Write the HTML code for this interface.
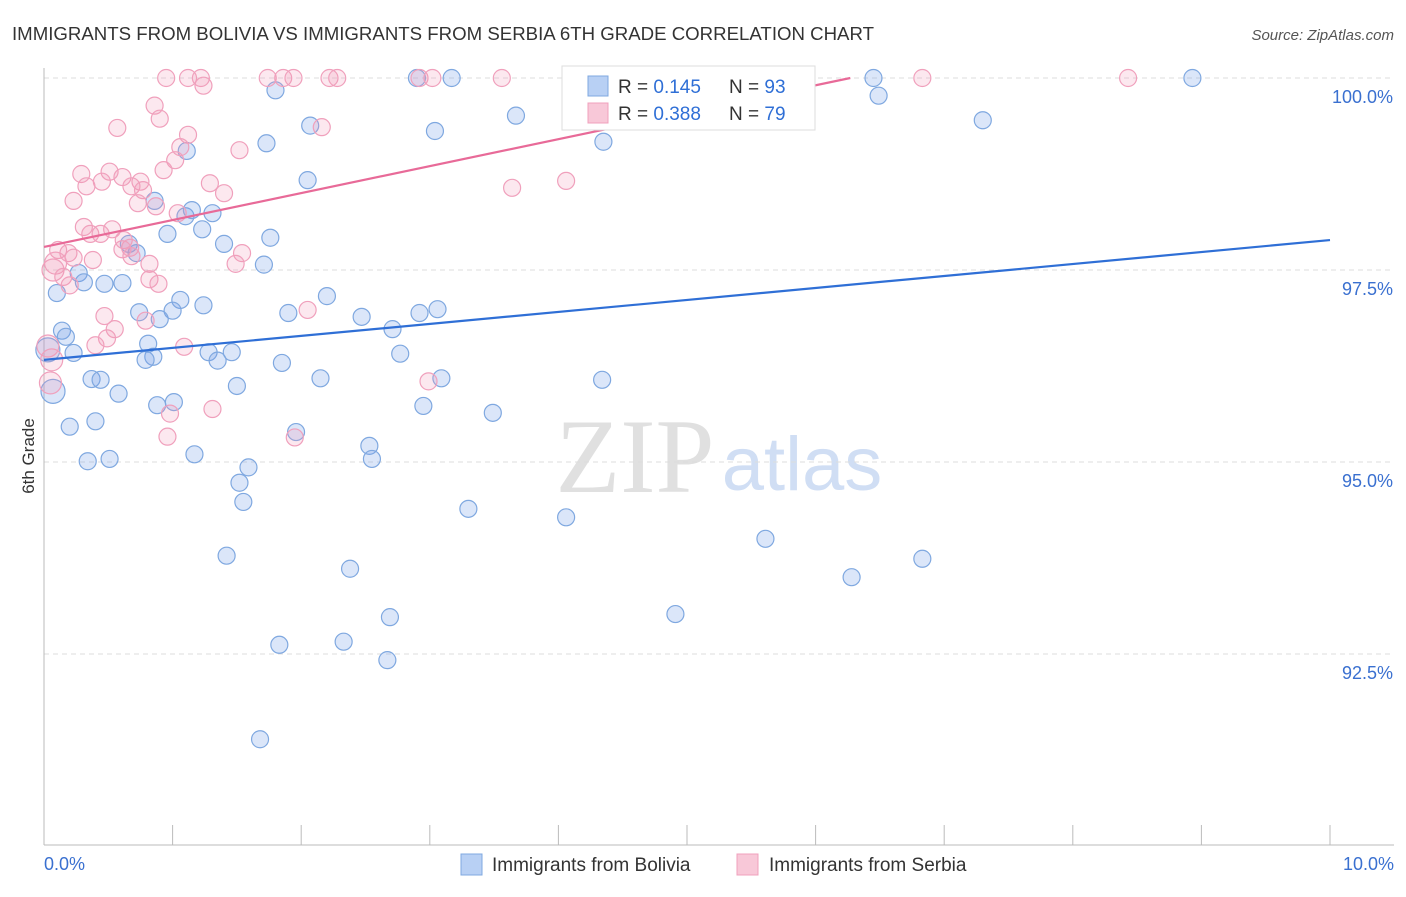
<!DOCTYPE html>
<html><head><meta charset="utf-8"><style>
body{margin:0;background:#fff;font-family:"Liberation Sans",sans-serif;}
svg text{font-family:"Liberation Sans",sans-serif;}
</style></head><body>
<svg id="c" width="1406" height="892" xmlns="http://www.w3.org/2000/svg">
<text x="12" y="40" font-size="18" fill="#333" textLength="862" lengthAdjust="spacingAndGlyphs">IMMIGRANTS FROM BOLIVIA VS IMMIGRANTS FROM SERBIA 6TH GRADE CORRELATION CHART</text>
<text x="1394" y="40" font-size="15" fill="#555" text-anchor="end" font-style="italic">Source: ZipAtlas.com</text>
<text x="34" y="456" font-size="17" fill="#333" text-anchor="middle" transform="rotate(-90 34 456)">6th Grade</text>
<g><text x="635" y="492" font-size="106" fill="#e0e0e0" text-anchor="middle" style="font-family:'Liberation Serif',serif">ZIP</text><text x="802" y="490" font-size="76" fill="#d0def4" text-anchor="middle">atlas</text></g>
<g id="grid"></g><g id="axes"></g><g id="pts"></g><g id="lines"></g>
<g>
<rect x="562" y="66" width="253" height="64" fill="#fff" stroke="#ddd"/>
<rect x="588" y="76" width="20" height="20" fill="#b8d0f4" stroke="#7fa8e0"/>
<text x="618" y="93" font-size="19" fill="#333">R = <tspan fill="#2f6fd6">0.145</tspan></text>
<text x="729" y="93" font-size="19" fill="#333">N = <tspan fill="#2f6fd6">93</tspan></text>
<rect x="588" y="103" width="20" height="20" fill="#f8c8d8" stroke="#f0a0bc"/>
<text x="618" y="120" font-size="19" fill="#333">R = <tspan fill="#2f6fd6">0.388</tspan></text>
<text x="729" y="120" font-size="19" fill="#333">N = <tspan fill="#2f6fd6">79</tspan></text>
</g>
<g>
<rect x="461" y="854" width="21" height="21" fill="#b8d0f4" stroke="#7fa8e0"/>
<text x="492" y="871" font-size="19" fill="#333">Immigrants from Bolivia</text>
<rect x="737" y="854" width="21" height="21" fill="#f8c8d8" stroke="#f0a0bc"/>
<text x="769" y="871" font-size="19" fill="#333">Immigrants from Serbia</text>
</g>
</svg>
<script>
const yTicks=[100,97.5,95,92.5];
const yTickLabels=["100.0%","97.5%","95.0%","92.5%"];
const xTickLabels=["0.0%","10.0%"];
const blueX=[4.11,5.00,6.45,8.93,2.90,3.17,5.57,1.80,6.49,3.67,7.30,2.07,3.04,4.35,1.73,1.11,2.05,.86,1.31,1.10,1.15,1.23,.96,1.40,1.76,.66,.72,1.71,.27,.10,.47,.61,.31,1.06,1.24,1.00,.74,.90,2.20,1.90,2.47,2.92,3.06,2.71,.14,.17,.03,.23,.81,.85,.79,1.28,1.46,1.35,1.85,2.77,.37,.44,.58,1.50,2.15,3.09,4.34,.07,.88,1.01,2.95,3.49,.40,.20,1.96,2.53,.34,.51,1.17,2.55,1.59,1.52,1.55,3.30,4.06,5.61,1.42,6.83,2.38,6.28,2.69,4.91,1.83,2.33,2.67,1.68];
const blueY=[100,100,100,100,100,100,100,99.84,99.77,99.51,99.45,99.38,99.31,99.17,99.15,99.05,98.67,98.40,98.24,98.20,98.28,98.03,97.97,97.84,97.92,97.84,97.72,97.57,97.46,97.20,97.32,97.33,97.34,97.11,97.04,96.97,96.95,96.86,97.16,96.94,96.89,96.94,96.99,96.73,96.71,96.63,96.46,96.42,96.54,96.37,96.33,96.43,96.43,96.32,96.29,96.41,96.08,96.07,95.89,95.99,96.09,96.09,96.07,95.92,95.74,95.78,95.73,95.64,95.53,95.46,95.39,95.21,95.01,95.04,95.10,95.04,94.93,94.73,94.48,94.39,94.28,94.00,93.78,93.74,93.61,93.50,92.98,93.02,92.62,92.66,92.42,91.39];
const pinkX=[.95,1.12,1.22,1.74,1.86,1.94,2.22,2.28,2.92,3.02,3.56,6.83,8.43,1.24,.86,.90,.57,2.16,1.12,1.06,1.52,1.02,.93,.51,.29,.61,.45,.33,.75,.68,1.29,.77,1.40,3.64,4.06,.23,.73,.87,1.04,.31,.53,.36,.44,.62,.11,.19,.67,.61,.23,1.54,.38,.09,.68,.82,1.49,.07,.15,.82,.89,.20,.47,.79,.55,.49,2.05,.40,1.09,2.99,.05,1.31,.98,.96,1.95,.03,.06];
const pinkY=[100,100,100,100,100,100,100,100,100,100,100,100,100,99.90,99.64,99.47,99.35,99.36,99.26,99.10,99.06,98.93,98.80,98.78,98.75,98.71,98.65,98.59,98.65,98.59,98.63,98.54,98.50,98.57,98.66,98.40,98.37,98.33,98.24,98.06,98.03,97.97,97.97,97.89,97.76,97.72,97.79,97.77,97.66,97.72,97.63,97.59,97.68,97.58,97.58,97.50,97.41,97.38,97.32,97.30,96.90,96.84,96.73,96.61,96.98,96.52,96.50,96.05,96.03,95.69,95.63,95.33,95.32,96.51,96.33];
const blueLine=[96.33,97.89];
const pinkLine=[97.80,100];
const pinkLineEndX=6.27;
const X=v=>44+v*128.6, Y=v=>78+(100-v)*76.8;
const NS="http://www.w3.org/2000/svg";
function mk(p,t,a){const e=document.createElementNS(NS,t);for(const k in a)e.setAttribute(k,a[k]);p.appendChild(e);return e;}
const grid=document.getElementById('grid'),axes=document.getElementById('axes'),pts=document.getElementById('pts'),lines=document.getElementById('lines');
yTicks.forEach((t,i)=>{
 const l=mk(grid,'line',{x1:44,x2:1394,y1:Y(t),y2:Y(t),stroke:'#ddd','stroke-dasharray':'5,4'});
 
 
 const tx=mk(axes,'text',{x:1393,y:Y(t)+25,'font-size':18,fill:'#3a70d0','text-anchor':'end'});tx.textContent=yTickLabels[i];
 
 
});
const ax=mk(axes,'line',{x1:44,x2:44,y1:68,y2:845,stroke:'#bbb'});


const bx=mk(axes,'line',{x1:44,x2:1394,y1:845,y2:845,stroke:'#bbb'});


for(let k=0;k<=10;k++){const t=mk(axes,'line',{x1:X(k),x2:X(k),y1:825,y2:845,stroke:'#bbb'});
 
 }
[[0,44,'start'],[10,1394,'end']].forEach((d,i)=>{const t=mk(axes,'text',{x:d[1],y:870,'font-size':18,fill:'#3a70d0','text-anchor':d[2]});t.textContent=xTickLabels[i];
 
 });
blueX.forEach((x,i)=>{const c=mk(pts,'circle',{cx:X(x),cy:Y(blueY[i]),r:(x<0.1?12:8.5),fill:'rgba(110,155,230,0.25)',stroke:'#7fa8e0','stroke-width':1.2});
 
 });
pinkX.forEach((x,i)=>{const c=mk(pts,'circle',{cx:X(x),cy:Y(pinkY[i]),r:(x<0.1?11:8.5),fill:'rgba(240,150,180,0.22)',stroke:'#f0a0bc','stroke-width':1.2});
 
 });
const bl=mk(lines,'line',{x1:X(0),y1:Y(blueLine[0]),x2:X(10),y2:Y(blueLine[1]),stroke:'#2f6fd6','stroke-width':2.2});


const pl=mk(lines,'line',{x1:X(0),y1:Y(pinkLine[0]),x2:X(pinkLineEndX),y2:Y(pinkLine[1]),stroke:'#e86a98','stroke-width':2.2});


</script>
</body></html>
